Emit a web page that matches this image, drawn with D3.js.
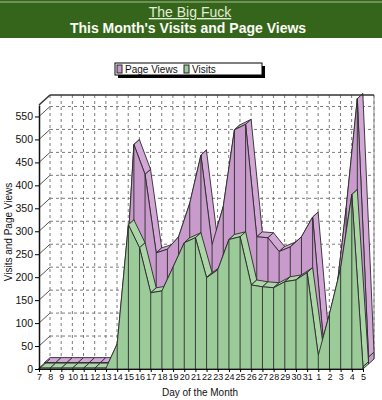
<!DOCTYPE html>
<html>
<head>
<meta charset="utf-8">
<script src="https://cdn.jsdelivr.net/npm/d3@7"></script>
<style>
  body { margin: 0; background: #fff; }
  svg { display: block; font-family: "Liberation Sans", Arial, sans-serif; }
</style>
</head>
<body>
<div id="chart"></div>
<script>
// days of the month shown on the x axis
var days = ["7","8","9","10","11","12","13","14","15","16","17","18","19","20","21",
            "22","23","24","25","26","27","28","29","30","31","1","2","3","4","5"];
var visits = [2,2,2,2,2,2,2,55,314,264,166,170,222,275,286,199,216,282,288,183,
              179,177,190,194,210,30,120,220,380,5];
var pageViews = [3,3,3,3,3,3,3,65,478,413,242,250,277,350,455,260,343,510,522,277,
                 275,245,255,277,320,40,130,340,578,15];
var yTicks = [0,50,100,150,200,250,300,350,400,450,500,550];
var seriesNames = ["Page Views", "Visits"];

var W = 382, H = 400;
var DX = 11, DY = -10; // depth offset of the 3d box

document.addEventListener('DOMContentLoaded', function () {
    var svg = d3.select("#chart").append("svg")
        .attr("width", W).attr("height", H);

    // header band
    svg.append("rect").attr("x", 0).attr("y", 0).attr("width", W).attr("height", 38)
        .attr("fill", "#35651b");
    svg.append("line").attr("x1", 0).attr("x2", W).attr("y1", 2).attr("y2", 2)
        .attr("stroke", "#a6bf92").attr("stroke-width", 1);
    svg.append("text").attr("x", 190).attr("y", 17).attr("text-anchor", "middle")
        .attr("fill", "#e3ecd6").style("font-size", "14px")
        .style("text-decoration", "underline").text("The Big Fuck");
    svg.append("text").attr("x", 188).attr("y", 33).attr("text-anchor", "middle")
        .attr("fill", "#fbfbf6").style("font-size", "14px").style("font-weight", "bold")
        .text("This Month's Visits and Page Views");

    var x = d3.scalePoint().domain(days).range([39, 363]);
    var y = d3.scaleLinear().domain([0, 575]).range([369, 105]);

    var x0 = x(days[0]), x1 = x(days[days.length - 1]);

    // back wall grid
    var wall = svg.append("g");
    yTicks.forEach(function (t) {
        wall.append("line")
            .attr("x1", x0 + DX).attr("x2", x1 + DX)
            .attr("y1", y(t) + DY).attr("y2", y(t) + DY)
            .attr("stroke", "#7a7a7a").attr("stroke-dasharray", "3,3");
        // left wall
        wall.append("line")
            .attr("x1", x0).attr("x2", x0 + DX)
            .attr("y1", y(t)).attr("y2", y(t) + DY)
            .attr("stroke", "#555");
    });
    days.forEach(function (d) {
        wall.append("line")
            .attr("x1", x(d) + DX).attr("x2", x(d) + DX)
            .attr("y1", y(575) + DY).attr("y2", y(0) + DY)
            .attr("stroke", "#7a7a7a").attr("stroke-dasharray", "3,3");
    });
    wall.append("line").attr("x1", x1 + DX).attr("x2", x1 + DX)
        .attr("y1", y(575) + DY).attr("y2", y(0) + DY).attr("stroke", "#888");

    function drawSeries(values, d0, d1, fill, topFill) {
        var g = svg.append("g");
        var fx = d0 * DX, fy = d0 * DY, bx = d1 * DX, by = d1 * DY;
        var P = values.map(function (v, i) { return [x(days[i]) + fx, y(v) + fy]; });
        var Q = values.map(function (v, i) { return [x(days[i]) + bx, y(v) + by]; });
        var base = y(0);
        var n = values.length;
        var back = [], front = [];
        for (var i = 0; i < n - 1; i++) {
            var sx = P[i + 1][0] - P[i][0], sy = P[i + 1][1] - P[i][1];
            var cross = sx * (by - fy) - sy * (bx - fx);
            var quad = [P[i], P[i + 1], Q[i + 1], Q[i]];
            if (cross < 0) front.push(quad); else back.push(quad);
        }
        back.concat(front).forEach(function (q) {
            g.append("path").attr("d", d3.line()(q) + "Z")
                .attr("fill", topFill).attr("stroke", "#2a2a2a").attr("stroke-width", 0.9)
                .attr("stroke-linejoin", "round");
        });
        // right end face
        g.append("path").attr("d", d3.line()([P[n - 1], Q[n - 1],
                [x1 + bx, base + by], [x1 + fx, base + fy]]) + "Z")
            .attr("fill", fill).attr("stroke", "#2a2a2a").attr("stroke-width", 0.9);
        // front face
        var area = d3.area()
            .x(function (d, i) { return x(days[i]) + fx; })
            .y0(base + fy)
            .y1(function (d) { return y(d) + fy; });
        g.append("path").attr("d", area(values))
            .attr("fill", fill).attr("stroke", "#2a2a2a").attr("stroke-width", 0.9)
            .attr("stroke-linejoin", "round");
        // day separators on the front face
        g.selectAll(".sep").data(values).enter().append("line")
            .attr("x1", function (d, i) { return x(days[i]) + fx; })
            .attr("x2", function (d, i) { return x(days[i]) + fx; })
            .attr("y1", function (d) { return y(d) + fy; })
            .attr("y2", base + fy)
            .attr("stroke", "#2a2a2a").attr("stroke-width", 0.9);
    }

    drawSeries(pageViews, 0.5, 1, "#c99bcc", "#d3a8d6");
    drawSeries(visits, 0, 0.5, "#9ccb9a", "#acd6a8");

    // box edges
    svg.append("line").attr("x1", x0 + DX).attr("x2", x1 + DX)
        .attr("y1", y(575) + DY).attr("y2", y(575) + DY)
        .attr("stroke", "#333").attr("stroke-width", 1.5);
    svg.append("line").attr("x1", x0).attr("x2", x0 + DX)
        .attr("y1", y(575)).attr("y2", y(575) + DY)
        .attr("stroke", "#333").attr("stroke-width", 1.5);
    svg.append("line").attr("x1", x0).attr("x2", x0 + DX)
        .attr("y1", y(0)).attr("y2", y(0) + DY)
        .attr("stroke", "#333");

    // y axis
    var yAxis = svg.append("g").attr("transform", "translate(" + x0 + ",0)")
        .call(d3.axisLeft(y).tickValues(yTicks).tickSize(4).tickSizeOuter(0).tickPadding(2));
    yAxis.select(".domain").attr("stroke", "#111").attr("stroke-width", 1.5);
    yAxis.selectAll("text").style("font-size", "10.5px").attr("fill", "#111")
        .style("font-family", "'Liberation Sans', Arial, sans-serif");

    // x axis
    var xAxis = svg.append("g").attr("transform", "translate(0," + y(0) + ")")
        .call(d3.axisBottom(x).tickSize(3).tickSizeOuter(0).tickPadding(2));
    xAxis.select(".domain").attr("stroke", "#111").attr("stroke-width", 1.2);
    xAxis.selectAll("text").style("font-size", "9px").attr("fill", "#111")
        .style("font-family", "'Liberation Sans', Arial, sans-serif");

    // axis titles
    svg.append("text").attr("x", 200).attr("y", 396).attr("text-anchor", "middle")
        .style("font-size", "10px").attr("fill", "#111").text("Day of the Month");
    svg.append("text").attr("transform", "translate(12,232) rotate(-90)")
        .attr("text-anchor", "middle").style("font-size", "10px").attr("fill", "#111")
        .text("Visits and Page Views");

    // legend
    var lg = svg.append("g").attr("transform", "translate(115,63)");
    lg.append("rect").attr("x", 3).attr("y", 3).attr("width", 147).attr("height", 12)
        .attr("fill", "#000");
    lg.append("rect").attr("x", 0).attr("y", 0).attr("width", 147).attr("height", 12)
        .attr("fill", "#fff").attr("stroke", "#000");
    var legendFill = ["#c99bcc", "#9ccb9a"];
    var legendX = [2, 69];
    seriesNames.forEach(function (name, i) {
        lg.append("rect").attr("x", legendX[i]).attr("y", 2).attr("width", 5).attr("height", 8)
            .attr("fill", legendFill[i]).attr("stroke", "#222");
        lg.append("text").attr("x", legendX[i] + 8).attr("y", 10)
            .style("font-size", "10px").attr("fill", "#111").text(name);
    });
});
</script>
</body>
</html>
